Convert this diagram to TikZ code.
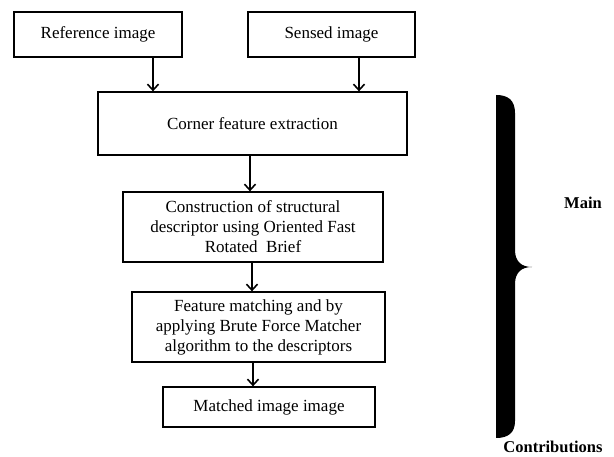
\documentclass[tikz,border=0pt]{standalone}
\usepackage{fontspec}
\setmainfont{Liberation Serif}
\usetikzlibrary{arrows.meta}
\begin{document}
\begin{tikzpicture}[x=1pt,y=-1pt,
  box/.style={draw, line width=1.3pt, inner sep=0pt, align=center,
    font=\fontsize{17}{20}\selectfont},
  arr/.style={line width=1.6pt, -{Straight Barb[length=6pt,width=11pt,line width=1.6pt]}},
  lbl/.style={font=\fontsize{16.5}{19.5}\selectfont\bfseries, inner sep=0pt}]
\useasboundingbox (0,0) rectangle (614,457);
\node[box, minimum width=168pt, minimum height=45pt] (ref) at (98,34.5) {Reference image};
\node[box, minimum width=167pt, minimum height=45pt] (sen) at (331.5,34.5) {Sensed image};
\node[box, minimum width=309pt, minimum height=63pt] (corner) at (252.5,123.5) {Corner feature extraction};
\node[box, minimum width=260pt, minimum height=70pt] (constr) at (253,227) {Construction of structural\\descriptor using Oriented Fast\\Rotated~ Brief};
\node[box, minimum width=253pt, minimum height=70pt] (feat) at (258.5,327) {Feature matching and by\\applying Brute Force Matcher\\algorithm to the descriptors};
\node[box, minimum width=212pt, minimum height=40pt] (match) at (269,407) {Matched image image};
\coordinate (x1) at (153,0);
\coordinate (x2) at (359,0);
\coordinate (x3) at (250,0);
\coordinate (x4) at (252,0);
\coordinate (x5) at (253,0);
\draw[arr] (ref.south -| x1) -- (corner.north -| x1);
\draw[arr] (sen.south -| x2) -- (corner.north -| x2);
\draw[arr] (corner.south -| x3) -- (constr.north -| x3);
\draw[arr] (constr.south -| x4) -- (feat.north -| x4);
\draw[arr] (feat.south -| x5) -- (match.north -| x5);
\fill (496,95) .. controls (508,95) and (515,100) .. (515,113)
  -- (515,250) .. controls (515,262) and (522,267) .. (532,267)
  .. controls (522,267) and (515,272) .. (515,284)
  -- (515,421) .. controls (515,433) and (508,438) .. (496,438) -- cycle;
\node[lbl] (main) at (583,203) {Main};
\node[lbl] (contrib) at (553,447) {Contributions};
\end{tikzpicture}
\end{document}
